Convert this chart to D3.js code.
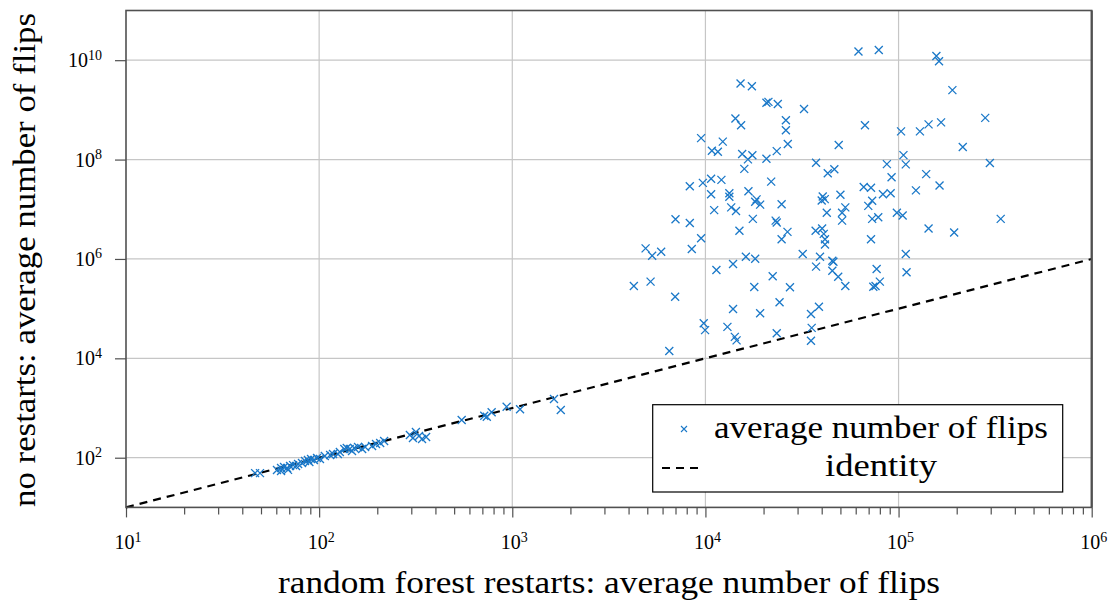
<!DOCTYPE html>
<html>
<head>
<meta charset="utf-8">
<script src="https://cdn.jsdelivr.net/npm/d3@7"></script>
<style>
    body { margin: 0; background: #fff; }
    text { font-family: 'Liberation Serif', 'DejaVu Serif', serif; fill: #000; }
</style>
</head>
<body>
<svg id="chart" width="1108" height="603"></svg>
<script>
// random forest restarts (x) vs no restarts (y): average number of flips
var restartFlips = [
    1.52e4, 1.74e4, 2.07e4, 2.12e4, 2.37e4, 3.24e4, 1.43e4, 1.53e4, 2.61e4, 2.61e4,
    9.5e3, 1.23e4, 1.08e4, 1.16e4, 2.67e4, 4.9e4, 2.34e4, 1.55e4, 1.75e4, 1.66e4,
    2.07e4, 3.74e4, 1.59e4, 4.3e4, 4.65e4, 8.3e3, 9.7e3, 1.07e4, 1.21e4, 2.19e4,
    6.2e4, 7.9e4, 1.57e5, 1.62e5, 1.9e5, 6.7e4, 1.03e5, 1.29e5, 1.43e5, 1.66e5,
    2.81e5, 2.15e5, 1.06e5, 8.7e4, 1.09e5, 2.97e5, 9.2e4, 1.39e5, 6.6e4, 7.2e4,
    1.23e5, 1.63e5, 8.3e4, 9.1e4, 1.07e4, 1.33e4, 1.33e4, 1.67e4, 1.84e4, 1.81e4,
    1.92e4, 2.48e4, 4.05e4, 4.15e4, 4.0e4, 5.0e4, 1.11e4, 1.36e4, 1.44e4, 1.76e4,
    2.31e4, 2.34e4, 4.25e4, 5.3e4, 5.1e4, 5.1e4, 7.0e3, 8.3e3, 1.5e4, 2.66e4,
    2.48e4, 3.72e4, 4.02e4, 4.1e4, 4.16e4, 4.16e4, 9.5e3, 4.9e3, 5.3e3, 5.9e3,
    8.5e3, 1.62e4, 1.81e4, 3.19e4, 3.92e4, 4.54e4, 4.6e4, 3.74e4, 1.14e4, 1.39e4,
    4.54e4, 4.87e4, 5.3e4, 2.23e4, 4.26e3, 5.2e3, 6.97e3, 1.79e4, 2.74e4, 2.42e4,
    1.39e4, 1.92e4, 3.52e4, 3.87e4, 9.8e3, 9.96e3, 1.3e4, 1.42e4, 1.45e4, 2.34e4,
    3.55e4, 3.52e4, 6.5e3, 6.97e4, 7.3e4, 7.3e4, 7.85e4, 9.8e4, 1.05e5, 7.2e4,
    1.43e5, 1.94e5, 3.38e5, 1.09e5, 7.7e4, 8.0e4, 7.6e4, 7.4e4, 1.1e5,
    46.6, 49.4, 60.5, 63.5, 65.8, 68.2, 70.7, 73.3, 75.9, 63.5,
    69, 77.8, 81.5, 84.5, 87.5, 90.8, 94, 97.5, 101, 89,
    107, 114, 118, 125, 128, 135, 139, 144, 148, 152,
    159, 167, 173, 188, 197, 207, 217, 295, 306, 317,
    329, 341, 358, 547, 716, 738, 782, 935, 1097, 1644, 1783
]
var noRestartFlips = [
    3.4e9, 3.0e9, 1.39e9, 1.45e9, 1.31e9, 1.04e9, 6.7e8, 4.9e8, 6.2e8, 3.9e8,
    2.7e8, 2.3e8, 1.5e8, 1.44e8, 2.05e8, 1.96e8, 1.48e8, 1.29e8, 1.22e8, 1.01e8,
    1.04e8, 8.6e7, 6.5e7, 5.3e7, 6.4e7, 2.9e7, 3.4e7, 4.1e7, 3.9e7, 3.6e7,
    1.5e10, 1.6e10, 1.21e10, 9.5e9, 2.5e9, 4.9e8, 3.7e8, 3.7e8, 5.1e8, 5.6e8,
    6.9e8, 1.79e8, 1.23e8, 8.1e7, 8.0e7, 8.5e7, 4.4e7, 5.1e7, 2.8e7, 2.7e7,
    2.4e7, 3.0e7, 2.0e7, 2.1e7, 2.0e7, 2.1e7, 1.79e7, 2.3e7, 1.58e7, 1.42e7,
    1.24e7, 1.26e7, 1.8e7, 1.6e7, 1.5e7, 1.96e7, 9.6e6, 1.09e7, 9.2e6, 6.4e6,
    5.9e6, 5.4e6, 8.5e6, 1.09e7, 8.5e6, 5.9e6, 6.3e6, 5.3e6, 3.7e6, 3.5e6,
    2.5e6, 3.7e6, 4.1e6, 3.2e6, 2.5e6, 1.95e6, 2.6e6, 1.63e6, 1.16e6, 1.4e6,
    1.58e6, 1.11e6, 1.01e6, 1.26e6, 1.11e6, 9.2e5, 8.8e5, 7.0e5, 6.0e5, 7.9e5,
    5.8e5, 4.4e5, 2.85e5, 4.5e5, 2.85e5, 3.5e5, 1.73e5, 2.72e5, 2.69e5, 1.34e5,
    9.8e4, 8.1e4, 7.8e4, 1.09e5, 5.1e4, 3.7e4, 4.3e4, 2.7e4, 2.3e4, 3.2e4,
    4.1e4, 2.26e4, 1.4e4, 1.17e7, 1.48e7, 6.4e6, 6.9e6, 8.5e6, 7.5e6, 2.5e6,
    4.1e6, 3.4e6, 6.4e6, 1.26e6, 6.3e5, 3.5e5, 2.85e5, 2.75e5, 5.4e5,
    49, 49, 56.6, 62, 65, 62, 68, 71, 68, 54,
    57, 75, 78, 86, 90, 94, 90, 99, 94, 82,
    108, 113, 119, 119, 130, 150, 157, 150, 136, 157,
    164, 150, 164, 172, 189, 198, 217, 286, 249, 329,
    273, 238, 261, 574, 700, 668, 819, 1062, 942, 1517, 912
]
var identityLine = [10, 1e6]
var xTickExps = [1, 2, 3, 4, 5, 6]
var yTickExps = [2, 4, 6, 8, 10]
var legendLabels = ['average number of flips', 'identity']

var markColor = '#1a78c8',
    gridColor = '#c6c6c6',
    frameColor = '#505050'

var svg = d3.select('#chart')

var x = d3.scaleLog().domain([10, 1e6]).range([126, 1091.7]),
    y = d3.scaleLog().domain([10, 1e11]).range([507.4, 10.5])

var xTicks = xTickExps.map(e => Math.pow(10, e)),
    yTicks = yTickExps.map(e => Math.pow(10, e))

// сетка
svg.append('g')
    .selectAll('line')
    .data(xTicks.slice(1, -1))
    .join('line')
    .attr('x1', d => x(d))
    .attr('x2', d => x(d))
    .attr('y1', y.range()[1])
    .attr('y2', y.range()[0])
    .style('stroke', gridColor)
    .style('stroke-width', 1.2)
svg.append('g')
    .selectAll('line')
    .data(yTicks)
    .join('line')
    .attr('x1', x.range()[0])
    .attr('x2', x.range()[1])
    .attr('y1', d => y(d))
    .attr('y2', d => y(d))
    .style('stroke', gridColor)
    .style('stroke-width', 1.2)

// оси
var xAxisG = svg.append('g').attr('transform', 'translate(0,' + y.range()[0] + ')')
xAxisG.call(d3.axisBottom(x).tickValues(x.ticks().filter(d => xTicks.indexOf(d) < 0)).tickSize(7).tickFormat(''))
xAxisG.append('g').call(d3.axisBottom(x).tickValues(xTicks).tickSize(10).tickFormat(''))
xAxisG.selectAll('.domain').remove()
xAxisG.selectAll('.tick line').attr('stroke', frameColor).attr('stroke-width', 1.2)

var yAxisG = svg.append('g').attr('transform', 'translate(' + x.range()[0] + ',0)')
yAxisG.call(d3.axisLeft(y).tickValues(yTicks).tickSize(11).tickFormat(''))
yAxisG.select('.domain').remove()
yAxisG.selectAll('.tick line').attr('stroke', frameColor).attr('stroke-width', 1.2)

// подписи 10^n
function powLabel(sel, e) {
    sel.append('tspan').text('10').style('font-size', '20px')
    sel.append('tspan').text(e).attr('dy', -7.5).style('font-size', '14px')
}
svg.append('g')
    .selectAll('text')
    .data(xTickExps)
    .join('text')
    .attr('x', d => x(Math.pow(10, d)) + 2)
    .attr('y', 549)
    .attr('text-anchor', 'middle')
    .each(function (d) { powLabel(d3.select(this), d) })
svg.append('g')
    .selectAll('text')
    .data(yTickExps)
    .join('text')
    .attr('x', 102)
    .attr('y', d => y(Math.pow(10, d)) + 7)
    .attr('text-anchor', 'end')
    .each(function (d) { powLabel(d3.select(this), d) })

// identity
svg.append('line')
    .attr('x1', x(identityLine[0]))
    .attr('y1', y(identityLine[0]))
    .attr('x2', x(identityLine[1]))
    .attr('y2', y(identityLine[1]))
    .style('stroke', '#000')
    .style('stroke-width', 2.2)
    .style('stroke-dasharray', '8,6')

// точки
var s = 4
svg.append('g')
    .selectAll('path')
    .data(restartFlips.map((v, i) => [v, noRestartFlips[i]]))
    .join('path')
    .attr('d', d => {
        var cx = x(d[0]), cy = y(d[1])
        return 'M' + (cx - s) + ',' + (cy - s) + 'L' + (cx + s) + ',' + (cy + s) +
            'M' + (cx - s) + ',' + (cy + s) + 'L' + (cx + s) + ',' + (cy - s)
    })
    .style('stroke', markColor)
    .style('stroke-width', 1.3)
    .style('fill', 'none')

// рамка
svg.append('rect')
    .attr('x', x.range()[0])
    .attr('y', y.range()[1])
    .attr('width', x.range()[1] - x.range()[0])
    .attr('height', y.range()[0] - y.range()[1])
    .style('fill', 'none')
    .style('stroke', frameColor)
    .style('stroke-width', 1.6)
svg.append('line')
    .attr('x1', x.range()[1]).attr('x2', x.range()[1])
    .attr('y1', y.range()[1]).attr('y2', y.range()[0])
    .style('stroke', frameColor)
    .style('stroke-width', 2.2)

// легенда
var lg = svg.append('g')
lg.append('rect')
    .attr('x', 652.7).attr('y', 404.7)
    .attr('width', 410).attr('height', 87.3)
    .style('fill', '#fff')
    .style('stroke', '#000')
    .style('stroke-width', 1.2)
lg.append('path')
    .attr('d', 'M681,426L687,432M681,432L687,426')
    .style('stroke', markColor)
    .style('stroke-width', 1.1)
lg.append('line')
    .attr('x1', 662).attr('x2', 704).attr('y1', 468).attr('y2', 468)
    .style('stroke', '#000')
    .style('stroke-width', 2.2)
    .style('stroke-dasharray', '8,6')
lg.append('text')
    .attr('x', 881).attr('y', 438)
    .attr('text-anchor', 'middle')
    .attr('textLength', 334)
    .attr('lengthAdjust', 'spacingAndGlyphs')
    .style('font-size', '31px')
    .text(legendLabels[0])
lg.append('text')
    .attr('x', 881).attr('y', 476)
    .attr('text-anchor', 'middle')
    .attr('textLength', 112)
    .attr('lengthAdjust', 'spacingAndGlyphs')
    .style('font-size', '31px')
    .text(legendLabels[1])

// названия осей
svg.append('text')
    .attr('x', 609).attr('y', 593)
    .attr('text-anchor', 'middle')
    .attr('textLength', 662)
    .attr('lengthAdjust', 'spacingAndGlyphs')
    .style('font-size', '31px')
    .text('random forest restarts: average number of flips')
svg.append('text')
    .attr('transform', 'translate(35,260) rotate(-90)')
    .attr('text-anchor', 'middle')
    .attr('textLength', 494)
    .attr('lengthAdjust', 'spacingAndGlyphs')
    .style('font-size', '31px')
    .text('no restarts: average number of flips')
</script>
</body>
</html>
